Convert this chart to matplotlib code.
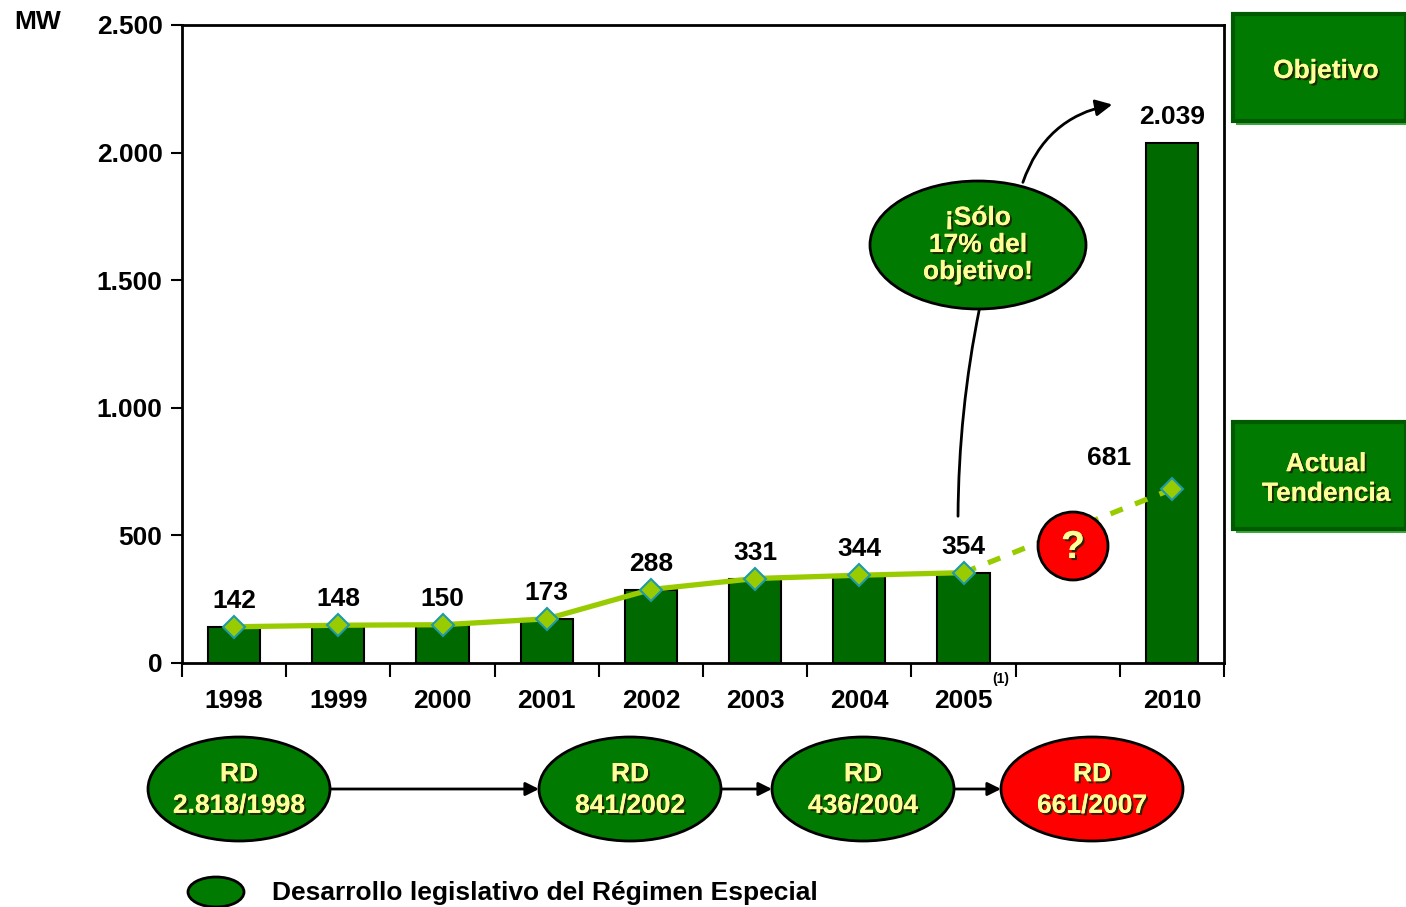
import matplotlib.pyplot as plt
import matplotlib.patheffects as pe
from matplotlib.patches import Ellipse, Rectangle, FancyArrowPatch
from matplotlib.ticker import FuncFormatter, FixedLocator

plt.rcParams['font.family'] = ['Liberation Sans', 'DejaVu Sans']
plt.rcParams['font.weight'] = 'bold'

# data
years = ['1998', '1999', '2000', '2001', '2002', '2003', '2004', '2005', '', '2010']
bar_pos = [0, 1, 2, 3, 4, 5, 6, 7, 9]
bar_values = [142, 148, 150, 173, 288, 331, 344, 354, 2039]
trend_pos = [0, 1, 2, 3, 4, 5, 6, 7]
trend_values = [142, 148, 150, 173, 288, 331, 344, 354]
projection_pos = [7, 9]
projection_values = [354, 681]
rd_labels = ['RD\n2.818/1998', 'RD\n841/2002', 'RD\n436/2004', 'RD\n661/2007']

BAR_GREEN = '#006A00'
FILL_GREEN = '#007A00'
LIME = '#99CC00'
YELLOW = '#FFFF99'
FS = 19
shadow = [pe.withSimplePatchShadow(offset=(1.5, -1.5), shadow_rgbFace='#222200', alpha=0.9), pe.Normal()]

fig = plt.figure(figsize=(14.06, 9.07), dpi=100)
ax = fig.add_axes([182 / 1406, 1 - 663 / 907, 1042 / 1406, 638 / 907])

ax.bar(bar_pos, bar_values, width=0.5, color=BAR_GREEN, edgecolor='black', linewidth=1.5, zorder=2)
ax.plot(trend_pos, trend_values, color=LIME, linewidth=3.8, zorder=3)
ax.plot(projection_pos, projection_values, color=LIME, linewidth=3.8, linestyle=(0, (2.5, 2.5)), zorder=3)
ax.plot(trend_pos + [9], trend_values + [681], linestyle='none', marker='D', markersize=11,
        markerfacecolor=LIME, markeredgecolor='#1E9AA8', markeredgewidth=1.5, zorder=4)

# value labels
for p, v in zip(bar_pos, bar_values):
    txt = f'{v:,}'.replace(',', '.')
    ax.annotate(txt, (p, v), xytext=(0, 10), textcoords='offset points', ha='center', va='bottom',
                fontsize=FS, fontweight='bold', zorder=5)
ax.annotate('681', (9, 681), xytext=(-45, 14), textcoords='offset points', ha='center', va='bottom',
            fontsize=FS, fontweight='bold')

ax.set_xlim(-0.5, 9.5)
ax.set_ylim(0, 2500)
ax.set_yticks([0, 500, 1000, 1500, 2000, 2500])
ax.yaxis.set_major_formatter(FuncFormatter(lambda v, _: f'{int(v):,}'.replace(',', '.')))
ax.set_xticks(range(10))
ax.set_xticklabels(years)
ax.xaxis.set_minor_locator(FixedLocator([i - 0.5 for i in range(11)]))
ax.tick_params(axis='x', which='major', length=0, pad=19, labelsize=FS)
ax.tick_params(axis='x', which='minor', length=10, width=1.5, direction='out')
ax.tick_params(axis='y', length=8, width=1.5, labelsize=FS, pad=6)
for lab in ax.get_xticklabels() + ax.get_yticklabels():
    lab.set_fontweight('bold')
for s in ax.spines.values():
    s.set_linewidth(2)

# overlay in pixel coordinates for callouts
ov = fig.add_axes([0, 0, 1, 1], zorder=5)
ov.set_xlim(0, 1406)
ov.set_ylim(907, 0)
ov.axis('off')

ov.text(38, 22, 'MW', ha='center', va='center', fontsize=FS, fontweight='bold')
ov.text(1001, 679, '(1)', ha='center', va='center', fontsize=10, fontweight='bold')

# "solo 17%" callout
ov.add_patch(FancyArrowPatch((1022, 185), (1115, 104), connectionstyle='arc3,rad=-0.3',
                             arrowstyle='-|>', mutation_scale=25, color='black', linewidth=2))
ov.add_patch(FancyArrowPatch((980, 306), (958, 519), connectionstyle='arc3,rad=0.05',
                             arrowstyle='-', color='black', linewidth=2))
ov.add_patch(Ellipse((978, 245), 216, 128, facecolor=FILL_GREEN, edgecolor='black', linewidth=2))
ov.text(978, 245, '¡Sólo\n17% del\nobjetivo!', ha='center', va='center', fontsize=FS,
        fontweight='bold', color=YELLOW, linespacing=1.16, path_effects=shadow)

# question mark
ov.add_patch(Ellipse((1073, 546), 70, 68, facecolor='#FF0000', edgecolor='black', linewidth=2))
ov.text(1073, 548, '?', ha='center', va='center', fontsize=28, fontweight='bold', color=YELLOW,
        path_effects=shadow)

# right boxes
for y0, label in [(14, 'Objetivo'), (422, 'Actual\nTendencia')]:
    ov.add_patch(Rectangle((1236, y0 + 3), 172, 108, facecolor='#3DA83D', edgecolor='none'))
    ov.add_patch(Rectangle((1233, y0), 173, 107, facecolor=FILL_GREEN, edgecolor='#005A00', linewidth=3))
    ov.text(1326, y0 + 57, label, ha='center', va='center', fontsize=FS, fontweight='bold',
            color=YELLOW, linespacing=1.3, path_effects=shadow)

# legislative timeline
rd_x = [239, 630, 863, 1092]
rd_colors = [FILL_GREEN, FILL_GREEN, FILL_GREEN, '#FF0000']
for i in range(len(rd_x) - 1):
    ov.add_patch(FancyArrowPatch((rd_x[i] + 91, 789), (rd_x[i + 1] - 91, 789), arrowstyle='-|>',
                                 mutation_scale=20, color='black', linewidth=2, shrinkA=0, shrinkB=0))
for x, lab, c in zip(rd_x, rd_labels, rd_colors):
    ov.add_patch(Ellipse((x, 789), 182, 104, facecolor=c, edgecolor='black', linewidth=2))
    ov.text(x, 790, lab, ha='center', va='center', fontsize=FS, fontweight='bold', color=YELLOW,
            linespacing=1.4, path_effects=shadow)

# legend
ov.add_patch(Ellipse((216, 892), 56, 30, facecolor=FILL_GREEN, edgecolor='black', linewidth=2))
ov.text(272, 893, 'Desarrollo legislativo del Régimen Especial', ha='left', va='center',
        fontsize=FS, fontweight='bold')

fig.savefig('out.png', dpi=100)
